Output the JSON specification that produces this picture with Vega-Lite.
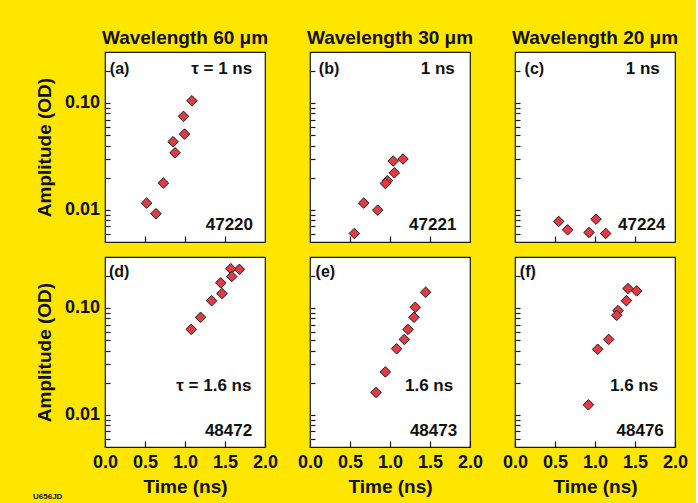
{
  "background": "#ffe600",
  "padding": {"left": 32, "top": 28, "right": 7, "bottom": 10},
  "data": {"values": [
      {"panel": "a", "kind": "pt", "t": 1.086, "amp": 0.105},
      {"panel": "a", "kind": "pt", "t": 0.981, "amp": 0.075},
      {"panel": "a", "kind": "pt", "t": 0.994, "amp": 0.0512},
      {"panel": "a", "kind": "pt", "t": 0.851, "amp": 0.0434},
      {"panel": "a", "kind": "pt", "t": 0.876, "amp": 0.0342},
      {"panel": "a", "kind": "pt", "t": 0.73, "amp": 0.0178},
      {"panel": "a", "kind": "pt", "t": 0.52, "amp": 0.01156},
      {"panel": "a", "kind": "pt", "t": 0.637, "amp": 0.0092},
      {"panel": "b", "kind": "pt", "t": 1.1625, "amp": 0.0299},
      {"panel": "b", "kind": "pt", "t": 1.04, "amp": 0.0286},
      {"panel": "b", "kind": "pt", "t": 1.054, "amp": 0.0222},
      {"panel": "b", "kind": "pt", "t": 0.967, "amp": 0.0187},
      {"panel": "b", "kind": "pt", "t": 0.942, "amp": 0.01766},
      {"panel": "b", "kind": "pt", "t": 0.671, "amp": 0.01156},
      {"panel": "b", "kind": "pt", "t": 0.846, "amp": 0.00993},
      {"panel": "b", "kind": "pt", "t": 0.554, "amp": 0.00601},
      {"panel": "c", "kind": "pt", "t": 0.546, "amp": 0.00778},
      {"panel": "c", "kind": "pt", "t": 0.658, "amp": 0.0065},
      {"panel": "c", "kind": "pt", "t": 1.0125, "amp": 0.00818},
      {"panel": "c", "kind": "pt", "t": 0.925, "amp": 0.00614},
      {"panel": "c", "kind": "pt", "t": 1.134, "amp": 0.00601},
      {"panel": "d", "kind": "pt", "t": 1.68, "amp": 0.23},
      {"panel": "d", "kind": "pt", "t": 1.572, "amp": 0.233},
      {"panel": "d", "kind": "pt", "t": 1.585, "amp": 0.197},
      {"panel": "d", "kind": "pt", "t": 1.447, "amp": 0.172},
      {"panel": "d", "kind": "pt", "t": 1.463, "amp": 0.1365},
      {"panel": "d", "kind": "pt", "t": 1.333, "amp": 0.117},
      {"panel": "d", "kind": "pt", "t": 1.195, "amp": 0.0818},
      {"panel": "d", "kind": "pt", "t": 1.078, "amp": 0.0631},
      {"panel": "e", "kind": "pt", "t": 1.446, "amp": 0.1406},
      {"panel": "e", "kind": "pt", "t": 1.316, "amp": 0.1015},
      {"panel": "e", "kind": "pt", "t": 1.3, "amp": 0.0818},
      {"panel": "e", "kind": "pt", "t": 1.225, "amp": 0.063},
      {"panel": "e", "kind": "pt", "t": 1.179, "amp": 0.0508},
      {"panel": "e", "kind": "pt", "t": 1.083, "amp": 0.0415},
      {"panel": "e", "kind": "pt", "t": 0.942, "amp": 0.0252},
      {"panel": "e", "kind": "pt", "t": 0.825, "amp": 0.0162},
      {"panel": "f", "kind": "pt", "t": 1.4125, "amp": 0.152},
      {"panel": "f", "kind": "pt", "t": 1.521, "amp": 0.1445},
      {"panel": "f", "kind": "pt", "t": 1.392, "amp": 0.117},
      {"panel": "f", "kind": "pt", "t": 1.2875, "amp": 0.0945},
      {"panel": "f", "kind": "pt", "t": 1.271, "amp": 0.0854},
      {"panel": "f", "kind": "pt", "t": 1.171, "amp": 0.0508},
      {"panel": "f", "kind": "pt", "t": 1.034, "amp": 0.0411},
      {"panel": "f", "kind": "pt", "t": 0.917, "amp": 0.0124},
      {"panel": "a", "kind": "letter", "t": 0.06, "amp": 0.21, "label": "(a)"},
      {"panel": "a", "kind": "tau", "t": 1.84, "amp": 0.21, "label": "τ = 1 ns"},
      {"panel": "a", "kind": "id", "t": 1.85, "amp": 0.0072, "label": "47220"},
      {"panel": "b", "kind": "letter", "t": 0.11, "amp": 0.21, "label": "(b)"},
      {"panel": "b", "kind": "tau", "t": 1.81, "amp": 0.21, "label": "1 ns"},
      {"panel": "b", "kind": "id", "t": 1.83, "amp": 0.0072, "label": "47221"},
      {"panel": "c", "kind": "letter", "t": 0.12, "amp": 0.21, "label": "(c)"},
      {"panel": "c", "kind": "tau", "t": 1.81, "amp": 0.21, "label": "1 ns"},
      {"panel": "c", "kind": "id", "t": 1.88, "amp": 0.0072, "label": "47224"},
      {"panel": "d", "kind": "letter", "t": 0.05, "amp": 0.217, "label": "(d)"},
      {"panel": "d", "kind": "tau", "t": 1.83, "amp": 0.0186, "label": "τ = 1.6 ns"},
      {"panel": "d", "kind": "id", "t": 1.84, "amp": 0.007, "label": "48472"},
      {"panel": "d", "kind": "code", "t": -0.9, "amp": 0.00172, "label": "U656JD"},
      {"panel": "e", "kind": "letter", "t": 0.07, "amp": 0.217, "label": "(e)"},
      {"panel": "e", "kind": "tau", "t": 1.79, "amp": 0.0188, "label": "1.6 ns"},
      {"panel": "e", "kind": "id", "t": 1.84, "amp": 0.007, "label": "48473"},
      {"panel": "f", "kind": "letter", "t": 0.06, "amp": 0.217, "label": "(f)"},
      {"panel": "f", "kind": "tau", "t": 1.79, "amp": 0.0188, "label": "1.6 ns"},
      {"panel": "f", "kind": "id", "t": 1.86, "amp": 0.007, "label": "48476"}
  ]},
  "spacing": 12,
  "vconcat": [
    {
      "spacing": 45,
      "bounds": "flush",
      "hconcat": [
        {
          "width": 160, "height": 190,
          "title": {"text": "Wavelength 60 μm", "offset": 4, "font": "Liberation Sans", "fontWeight": "bold", "fontSize": 19, "color": "#111111"},
          "layer": [
            {"transform": [{"filter": "datum.panel === 'a' && datum.kind === 'pt'"}],
             "mark": {"type": "point", "shape": "diamond", "filled": true, "size": 110, "fill": "#e23b45", "stroke": "#1a1a1a", "strokeWidth": 1, "opacity": 1},
             "encoding": {
               "x": {"field": "t", "type": "quantitative", "scale": {"domain": [0, 2], "nice": false, "zero": false},
                     "axis": {"orient": "bottom", "values": [0.5, 1, 1.5], "tickSize": -6, "labels": false, "title": null}},
               "y": {"field": "amp", "type": "quantitative", "scale": {"type": "log", "domain": [0.005, 0.3], "nice": false},
                     "axis": {"orient": "left", "values": [0.006, 0.007, 0.008, 0.009, 0.01, 0.02, 0.03, 0.04, 0.05, 0.06, 0.07, 0.08, 0.09, 0.1, 0.2], "tickSize": -5,
                              "labelExpr": "datum.value === 0.1 ? '0.10' : datum.value === 0.01 ? '0.01' : ''",
                              "labelPadding": 10.5, "title": "Amplitude (OD)", "titlePadding": 10}}
             }},
            {"transform": [{"filter": "datum.panel === 'a' && (datum.kind === 'tau' || datum.kind === 'id')"}],
             "mark": {"type": "text", "align": "right", "baseline": "middle", "fontSize": 17, "font": "Liberation Sans", "fontWeight": "bold", "color": "#111111"},
             "encoding": {
               "x": {"field": "t", "type": "quantitative", "scale": {"domain": [0, 2], "nice": false, "zero": false},
                     "axis": {"orient": "bottom", "values": [0.5, 1, 1.5], "tickSize": -6, "labels": false, "title": null}},
               "y": {"field": "amp", "type": "quantitative", "scale": {"type": "log", "domain": [0.005, 0.3], "nice": false},
                     "axis": {"orient": "left", "values": [0.006, 0.007, 0.008, 0.009, 0.01, 0.02, 0.03, 0.04, 0.05, 0.06, 0.07, 0.08, 0.09, 0.1, 0.2], "tickSize": -5,
                              "labelExpr": "datum.value === 0.1 ? '0.10' : datum.value === 0.01 ? '0.01' : ''",
                              "labelPadding": 10.5, "title": "Amplitude (OD)", "titlePadding": 10}},
               "text": {"field": "label"}
             }},
            {"transform": [{"filter": "datum.panel === 'a' && datum.kind === 'letter'"}],
             "mark": {"type": "text", "align": "left", "baseline": "middle", "fontSize": 16, "font": "Liberation Sans", "fontWeight": "bold", "color": "#111111"},
             "encoding": {
               "x": {"field": "t", "type": "quantitative", "scale": {"domain": [0, 2], "nice": false, "zero": false},
                     "axis": {"orient": "bottom", "values": [0.5, 1, 1.5], "tickSize": -6, "labels": false, "title": null}},
               "y": {"field": "amp", "type": "quantitative", "scale": {"type": "log", "domain": [0.005, 0.3], "nice": false},
                     "axis": {"orient": "left", "values": [0.006, 0.007, 0.008, 0.009, 0.01, 0.02, 0.03, 0.04, 0.05, 0.06, 0.07, 0.08, 0.09, 0.1, 0.2], "tickSize": -5,
                              "labelExpr": "datum.value === 0.1 ? '0.10' : datum.value === 0.01 ? '0.01' : ''",
                              "labelPadding": 10.5, "title": "Amplitude (OD)", "titlePadding": 10}},
               "text": {"field": "label"}
             }}
          ]
        },
        {
          "width": 160, "height": 190,
          "title": {"text": "Wavelength 30 μm", "offset": 4, "font": "Liberation Sans", "fontWeight": "bold", "fontSize": 19, "color": "#111111"},
          "layer": [
            {"transform": [{"filter": "datum.panel === 'b' && datum.kind === 'pt'"}],
             "mark": {"type": "point", "shape": "diamond", "filled": true, "size": 110, "fill": "#e23b45", "stroke": "#1a1a1a", "strokeWidth": 1, "opacity": 1},
             "encoding": {
               "x": {"field": "t", "type": "quantitative", "scale": {"domain": [0, 2], "nice": false, "zero": false},
                     "axis": {"orient": "bottom", "values": [0.5, 1, 1.5], "tickSize": -6, "labels": false, "title": null}},
               "y": {"field": "amp", "type": "quantitative", "scale": {"type": "log", "domain": [0.005, 0.3], "nice": false},
                     "axis": {"orient": "left", "values": [0.006, 0.007, 0.008, 0.009, 0.01, 0.02, 0.03, 0.04, 0.05, 0.06, 0.07, 0.08, 0.09, 0.1, 0.2], "tickSize": -5, "labels": false, "title": null}}
             }},
            {"transform": [{"filter": "datum.panel === 'b' && (datum.kind === 'tau' || datum.kind === 'id')"}],
             "mark": {"type": "text", "align": "right", "baseline": "middle", "fontSize": 17, "font": "Liberation Sans", "fontWeight": "bold", "color": "#111111"},
             "encoding": {
               "x": {"field": "t", "type": "quantitative", "scale": {"domain": [0, 2], "nice": false, "zero": false},
                     "axis": {"orient": "bottom", "values": [0.5, 1, 1.5], "tickSize": -6, "labels": false, "title": null}},
               "y": {"field": "amp", "type": "quantitative", "scale": {"type": "log", "domain": [0.005, 0.3], "nice": false},
                     "axis": {"orient": "left", "values": [0.006, 0.007, 0.008, 0.009, 0.01, 0.02, 0.03, 0.04, 0.05, 0.06, 0.07, 0.08, 0.09, 0.1, 0.2], "tickSize": -5, "labels": false, "title": null}},
               "text": {"field": "label"}
             }},
            {"transform": [{"filter": "datum.panel === 'b' && datum.kind === 'letter'"}],
             "mark": {"type": "text", "align": "left", "baseline": "middle", "fontSize": 16, "font": "Liberation Sans", "fontWeight": "bold", "color": "#111111"},
             "encoding": {
               "x": {"field": "t", "type": "quantitative", "scale": {"domain": [0, 2], "nice": false, "zero": false},
                     "axis": {"orient": "bottom", "values": [0.5, 1, 1.5], "tickSize": -6, "labels": false, "title": null}},
               "y": {"field": "amp", "type": "quantitative", "scale": {"type": "log", "domain": [0.005, 0.3], "nice": false},
                     "axis": {"orient": "left", "values": [0.006, 0.007, 0.008, 0.009, 0.01, 0.02, 0.03, 0.04, 0.05, 0.06, 0.07, 0.08, 0.09, 0.1, 0.2], "tickSize": -5, "labels": false, "title": null}},
               "text": {"field": "label"}
             }}
          ]
        },
        {
          "width": 160, "height": 190,
          "title": {"text": "Wavelength 20 μm", "offset": 4, "font": "Liberation Sans", "fontWeight": "bold", "fontSize": 19, "color": "#111111"},
          "layer": [
            {"transform": [{"filter": "datum.panel === 'c' && datum.kind === 'pt'"}],
             "mark": {"type": "point", "shape": "diamond", "filled": true, "size": 110, "fill": "#e23b45", "stroke": "#1a1a1a", "strokeWidth": 1, "opacity": 1},
             "encoding": {
               "x": {"field": "t", "type": "quantitative", "scale": {"domain": [0, 2], "nice": false, "zero": false},
                     "axis": {"orient": "bottom", "values": [0.5, 1, 1.5], "tickSize": -6, "labels": false, "title": null}},
               "y": {"field": "amp", "type": "quantitative", "scale": {"type": "log", "domain": [0.005, 0.3], "nice": false},
                     "axis": {"orient": "left", "values": [0.006, 0.007, 0.008, 0.009, 0.01, 0.02, 0.03, 0.04, 0.05, 0.06, 0.07, 0.08, 0.09, 0.1, 0.2], "tickSize": -5, "labels": false, "title": null}}
             }},
            {"transform": [{"filter": "datum.panel === 'c' && (datum.kind === 'tau' || datum.kind === 'id')"}],
             "mark": {"type": "text", "align": "right", "baseline": "middle", "fontSize": 17, "font": "Liberation Sans", "fontWeight": "bold", "color": "#111111"},
             "encoding": {
               "x": {"field": "t", "type": "quantitative", "scale": {"domain": [0, 2], "nice": false, "zero": false},
                     "axis": {"orient": "bottom", "values": [0.5, 1, 1.5], "tickSize": -6, "labels": false, "title": null}},
               "y": {"field": "amp", "type": "quantitative", "scale": {"type": "log", "domain": [0.005, 0.3], "nice": false},
                     "axis": {"orient": "left", "values": [0.006, 0.007, 0.008, 0.009, 0.01, 0.02, 0.03, 0.04, 0.05, 0.06, 0.07, 0.08, 0.09, 0.1, 0.2], "tickSize": -5, "labels": false, "title": null}},
               "text": {"field": "label"}
             }},
            {"transform": [{"filter": "datum.panel === 'c' && datum.kind === 'letter'"}],
             "mark": {"type": "text", "align": "left", "baseline": "middle", "fontSize": 16, "font": "Liberation Sans", "fontWeight": "bold", "color": "#111111"},
             "encoding": {
               "x": {"field": "t", "type": "quantitative", "scale": {"domain": [0, 2], "nice": false, "zero": false},
                     "axis": {"orient": "bottom", "values": [0.5, 1, 1.5], "tickSize": -6, "labels": false, "title": null}},
               "y": {"field": "amp", "type": "quantitative", "scale": {"type": "log", "domain": [0.005, 0.3], "nice": false},
                     "axis": {"orient": "left", "values": [0.006, 0.007, 0.008, 0.009, 0.01, 0.02, 0.03, 0.04, 0.05, 0.06, 0.07, 0.08, 0.09, 0.1, 0.2], "tickSize": -5, "labels": false, "title": null}},
               "text": {"field": "label"}
             }}
          ]
        }
      ]
    },
    {
      "spacing": 45,
      "bounds": "flush",
      "hconcat": [
        {
          "width": 160, "height": 190,
          "layer": [
            {"transform": [{"filter": "datum.panel === 'd' && datum.kind === 'pt'"}],
             "mark": {"type": "point", "shape": "diamond", "filled": true, "size": 110, "fill": "#e23b45", "stroke": "#1a1a1a", "strokeWidth": 1, "opacity": 1},
             "encoding": {
               "x": {"field": "t", "type": "quantitative", "scale": {"domain": [0, 2], "nice": false, "zero": false},
                     "axis": {"orient": "bottom", "values": [0, 0.5, 1, 1.5, 2], "format": ".1f", "tickSize": -6, "labelPadding": 12.5, "title": "Time (ns)", "titlePadding": 6}},
               "y": {"field": "amp", "type": "quantitative", "scale": {"type": "log", "domain": [0.005, 0.3], "nice": false},
                     "axis": {"orient": "left", "values": [0.006, 0.007, 0.008, 0.009, 0.01, 0.02, 0.03, 0.04, 0.05, 0.06, 0.07, 0.08, 0.09, 0.1, 0.2], "tickSize": -5,
                              "labelExpr": "datum.value === 0.1 ? '0.10' : datum.value === 0.01 ? '0.01' : ''",
                              "labelPadding": 10.5, "title": "Amplitude (OD)", "titlePadding": 10}}
             }},
            {"transform": [{"filter": "datum.panel === 'd' && (datum.kind === 'tau' || datum.kind === 'id')"}],
             "mark": {"type": "text", "align": "right", "baseline": "middle", "fontSize": 17, "font": "Liberation Sans", "fontWeight": "bold", "color": "#111111"},
             "encoding": {
               "x": {"field": "t", "type": "quantitative", "scale": {"domain": [0, 2], "nice": false, "zero": false},
                     "axis": {"orient": "bottom", "values": [0, 0.5, 1, 1.5, 2], "format": ".1f", "tickSize": -6, "labelPadding": 12.5, "title": "Time (ns)", "titlePadding": 6}},
               "y": {"field": "amp", "type": "quantitative", "scale": {"type": "log", "domain": [0.005, 0.3], "nice": false},
                     "axis": {"orient": "left", "values": [0.006, 0.007, 0.008, 0.009, 0.01, 0.02, 0.03, 0.04, 0.05, 0.06, 0.07, 0.08, 0.09, 0.1, 0.2], "tickSize": -5,
                              "labelExpr": "datum.value === 0.1 ? '0.10' : datum.value === 0.01 ? '0.01' : ''",
                              "labelPadding": 10.5, "title": "Amplitude (OD)", "titlePadding": 10}},
               "text": {"field": "label"}
             }},
            {"transform": [{"filter": "datum.panel === 'd' && datum.kind === 'letter'"}],
             "mark": {"type": "text", "align": "left", "baseline": "middle", "fontSize": 16, "font": "Liberation Sans", "fontWeight": "bold", "color": "#111111"},
             "encoding": {
               "x": {"field": "t", "type": "quantitative", "scale": {"domain": [0, 2], "nice": false, "zero": false},
                     "axis": {"orient": "bottom", "values": [0, 0.5, 1, 1.5, 2], "format": ".1f", "tickSize": -6, "labelPadding": 12.5, "title": "Time (ns)", "titlePadding": 6}},
               "y": {"field": "amp", "type": "quantitative", "scale": {"type": "log", "domain": [0.005, 0.3], "nice": false},
                     "axis": {"orient": "left", "values": [0.006, 0.007, 0.008, 0.009, 0.01, 0.02, 0.03, 0.04, 0.05, 0.06, 0.07, 0.08, 0.09, 0.1, 0.2], "tickSize": -5,
                              "labelExpr": "datum.value === 0.1 ? '0.10' : datum.value === 0.01 ? '0.01' : ''",
                              "labelPadding": 10.5, "title": "Amplitude (OD)", "titlePadding": 10}},
               "text": {"field": "label"}
             }},
            {"transform": [{"filter": "datum.panel === 'd' && datum.kind === 'code'"}],
             "mark": {"type": "text", "align": "left", "baseline": "middle", "fontSize": 8, "font": "Liberation Sans", "fontWeight": "bold", "color": "#111111"},
             "encoding": {
               "x": {"field": "t", "type": "quantitative", "scale": {"domain": [0, 2], "nice": false, "zero": false},
                     "axis": {"orient": "bottom", "values": [0, 0.5, 1, 1.5, 2], "format": ".1f", "tickSize": -6, "labelPadding": 12.5, "title": "Time (ns)", "titlePadding": 6}},
               "y": {"field": "amp", "type": "quantitative", "scale": {"type": "log", "domain": [0.005, 0.3], "nice": false},
                     "axis": {"orient": "left", "values": [0.006, 0.007, 0.008, 0.009, 0.01, 0.02, 0.03, 0.04, 0.05, 0.06, 0.07, 0.08, 0.09, 0.1, 0.2], "tickSize": -5,
                              "labelExpr": "datum.value === 0.1 ? '0.10' : datum.value === 0.01 ? '0.01' : ''",
                              "labelPadding": 10.5, "title": "Amplitude (OD)", "titlePadding": 10}},
               "text": {"field": "label"}
             }}
          ]
        },
        {
          "width": 160, "height": 190,
          "layer": [
            {"transform": [{"filter": "datum.panel === 'e' && datum.kind === 'pt'"}],
             "mark": {"type": "point", "shape": "diamond", "filled": true, "size": 110, "fill": "#e23b45", "stroke": "#1a1a1a", "strokeWidth": 1, "opacity": 1},
             "encoding": {
               "x": {"field": "t", "type": "quantitative", "scale": {"domain": [0, 2], "nice": false, "zero": false},
                     "axis": {"orient": "bottom", "values": [0, 0.5, 1, 1.5, 2], "format": ".1f", "tickSize": -6, "labelPadding": 12.5, "title": "Time (ns)", "titlePadding": 6}},
               "y": {"field": "amp", "type": "quantitative", "scale": {"type": "log", "domain": [0.005, 0.3], "nice": false},
                     "axis": {"orient": "left", "values": [0.006, 0.007, 0.008, 0.009, 0.01, 0.02, 0.03, 0.04, 0.05, 0.06, 0.07, 0.08, 0.09, 0.1, 0.2], "tickSize": -5, "labels": false, "title": null}}
             }},
            {"transform": [{"filter": "datum.panel === 'e' && (datum.kind === 'tau' || datum.kind === 'id')"}],
             "mark": {"type": "text", "align": "right", "baseline": "middle", "fontSize": 17, "font": "Liberation Sans", "fontWeight": "bold", "color": "#111111"},
             "encoding": {
               "x": {"field": "t", "type": "quantitative", "scale": {"domain": [0, 2], "nice": false, "zero": false},
                     "axis": {"orient": "bottom", "values": [0, 0.5, 1, 1.5, 2], "format": ".1f", "tickSize": -6, "labelPadding": 12.5, "title": "Time (ns)", "titlePadding": 6}},
               "y": {"field": "amp", "type": "quantitative", "scale": {"type": "log", "domain": [0.005, 0.3], "nice": false},
                     "axis": {"orient": "left", "values": [0.006, 0.007, 0.008, 0.009, 0.01, 0.02, 0.03, 0.04, 0.05, 0.06, 0.07, 0.08, 0.09, 0.1, 0.2], "tickSize": -5, "labels": false, "title": null}},
               "text": {"field": "label"}
             }},
            {"transform": [{"filter": "datum.panel === 'e' && datum.kind === 'letter'"}],
             "mark": {"type": "text", "align": "left", "baseline": "middle", "fontSize": 16, "font": "Liberation Sans", "fontWeight": "bold", "color": "#111111"},
             "encoding": {
               "x": {"field": "t", "type": "quantitative", "scale": {"domain": [0, 2], "nice": false, "zero": false},
                     "axis": {"orient": "bottom", "values": [0, 0.5, 1, 1.5, 2], "format": ".1f", "tickSize": -6, "labelPadding": 12.5, "title": "Time (ns)", "titlePadding": 6}},
               "y": {"field": "amp", "type": "quantitative", "scale": {"type": "log", "domain": [0.005, 0.3], "nice": false},
                     "axis": {"orient": "left", "values": [0.006, 0.007, 0.008, 0.009, 0.01, 0.02, 0.03, 0.04, 0.05, 0.06, 0.07, 0.08, 0.09, 0.1, 0.2], "tickSize": -5, "labels": false, "title": null}},
               "text": {"field": "label"}
             }}
          ]
        },
        {
          "width": 160, "height": 190,
          "layer": [
            {"transform": [{"filter": "datum.panel === 'f' && datum.kind === 'pt'"}],
             "mark": {"type": "point", "shape": "diamond", "filled": true, "size": 110, "fill": "#e23b45", "stroke": "#1a1a1a", "strokeWidth": 1, "opacity": 1},
             "encoding": {
               "x": {"field": "t", "type": "quantitative", "scale": {"domain": [0, 2], "nice": false, "zero": false},
                     "axis": {"orient": "bottom", "values": [0, 0.5, 1, 1.5, 2], "format": ".1f", "tickSize": -6, "labelPadding": 12.5, "title": "Time (ns)", "titlePadding": 6}},
               "y": {"field": "amp", "type": "quantitative", "scale": {"type": "log", "domain": [0.005, 0.3], "nice": false},
                     "axis": {"orient": "left", "values": [0.006, 0.007, 0.008, 0.009, 0.01, 0.02, 0.03, 0.04, 0.05, 0.06, 0.07, 0.08, 0.09, 0.1, 0.2], "tickSize": -5, "labels": false, "title": null}}
             }},
            {"transform": [{"filter": "datum.panel === 'f' && (datum.kind === 'tau' || datum.kind === 'id')"}],
             "mark": {"type": "text", "align": "right", "baseline": "middle", "fontSize": 17, "font": "Liberation Sans", "fontWeight": "bold", "color": "#111111"},
             "encoding": {
               "x": {"field": "t", "type": "quantitative", "scale": {"domain": [0, 2], "nice": false, "zero": false},
                     "axis": {"orient": "bottom", "values": [0, 0.5, 1, 1.5, 2], "format": ".1f", "tickSize": -6, "labelPadding": 12.5, "title": "Time (ns)", "titlePadding": 6}},
               "y": {"field": "amp", "type": "quantitative", "scale": {"type": "log", "domain": [0.005, 0.3], "nice": false},
                     "axis": {"orient": "left", "values": [0.006, 0.007, 0.008, 0.009, 0.01, 0.02, 0.03, 0.04, 0.05, 0.06, 0.07, 0.08, 0.09, 0.1, 0.2], "tickSize": -5, "labels": false, "title": null}},
               "text": {"field": "label"}
             }},
            {"transform": [{"filter": "datum.panel === 'f' && datum.kind === 'letter'"}],
             "mark": {"type": "text", "align": "left", "baseline": "middle", "fontSize": 16, "font": "Liberation Sans", "fontWeight": "bold", "color": "#111111"},
             "encoding": {
               "x": {"field": "t", "type": "quantitative", "scale": {"domain": [0, 2], "nice": false, "zero": false},
                     "axis": {"orient": "bottom", "values": [0, 0.5, 1, 1.5, 2], "format": ".1f", "tickSize": -6, "labelPadding": 12.5, "title": "Time (ns)", "titlePadding": 6}},
               "y": {"field": "amp", "type": "quantitative", "scale": {"type": "log", "domain": [0.005, 0.3], "nice": false},
                     "axis": {"orient": "left", "values": [0.006, 0.007, 0.008, 0.009, 0.01, 0.02, 0.03, 0.04, 0.05, 0.06, 0.07, 0.08, 0.09, 0.1, 0.2], "tickSize": -5, "labels": false, "title": null}},
               "text": {"field": "label"}
             }}
          ]
        }
      ]
    }
  ],
  "config": {
    "view": {"stroke": "#1a1a1a", "strokeWidth": 1.2, "fill": "white"},
    "axis": {"domain": false, "grid": false, "labelFont": "Liberation Sans", "labelFontWeight": "bold", "labelFontSize": 18, "labelColor": "#111111",
             "titleFont": "Liberation Sans", "titleFontWeight": "bold", "titleFontSize": 19, "titleColor": "#111111",
             "tickColor": "#1a1a1a", "tickWidth": 1.2, "labelFlush": false, "labelOverlap": false, "labelBound": false}
  }
}
